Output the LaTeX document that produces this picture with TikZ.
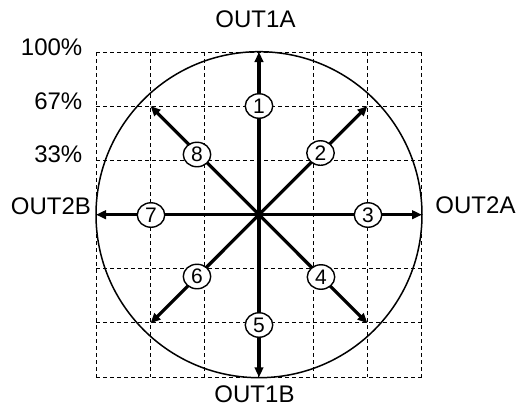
\documentclass[tikz,border=0pt]{standalone}
\usepackage{fontspec}
\setmainfont{Liberation Sans}
\usetikzlibrary{arrows.meta,shapes.geometric}
\begin{document}
\begin{tikzpicture}[x=1pt,y=-1pt,
  gridline/.style={dash pattern=on 4pt off 3pt,line width=1pt},
  vec/.style={line width=3.2pt,-{Triangle[length=10pt,width=8.5pt]}},
  marker/.style={ellipse,draw,line width=1.4pt,fill=white,minimum width=27.5pt,minimum height=24.5pt,inner sep=0pt,font=\fontsize{21}{21}\selectfont},
  lbl/.style={inner sep=0pt,font=\fontsize{24}{24}\selectfont}]
\useasboundingbox (0,0) rectangle (531,410);
% grid
\foreach \k in {0,...,6}{
  \draw[gridline] ({96+\k*54.33},52) -- ({96+\k*54.33},377);
  \draw[gridline] (96,{52+\k*54.17}) -- (422,{52+\k*54.17});
}
\coordinate (c) at (259,214.7);
\draw[line width=1.5pt] (c) circle[radius=163];
\coordinate (n) at (259,52);
\coordinate (s) at (259,377.3);
\coordinate (e) at (422,214.7);
\coordinate (w) at (96,214.7);
\coordinate (ne) at (367.5,106);
\coordinate (nw) at (150.5,106);
\coordinate (se) at (367.5,323.3);
\coordinate (sw) at (150.5,323.3);
\foreach \t in {n,s,e,w,ne,nw,se,sw}{\draw[vec] (c) -- (\t);}
\node[marker] (m1) at (259,106) {1};
\node[marker] (m2) at (320.5,153) {2};
\node[marker] (m3) at (368,215) {3};
\node[marker] (m4) at (321,277) {4};
\node[marker] (m5) at (259,325) {5};
\node[marker] (m6) at (197,276.5) {6};
\node[marker] (m7) at (151,215) {7};
\node[marker] (m8) at (197,154.5) {8};
\node[lbl] (o1a) at (255.5,19.5) {OUT1A};
\node[lbl] (o1b) at (254.5,394.5) {OUT1B};
\node[lbl] (o2b) at (51,206) {OUT2B};
\node[lbl] (o2a) at (475.5,205.5) {OUT2A};
\node[lbl,anchor=east] (p100) at (82.5,47.5) {100\%};
\node[lbl,anchor=east] (p67) at (82.5,101.5) {67\%};
\node[lbl,anchor=east] (p33) at (82.5,154) {33\%};
\end{tikzpicture}
\end{document}
